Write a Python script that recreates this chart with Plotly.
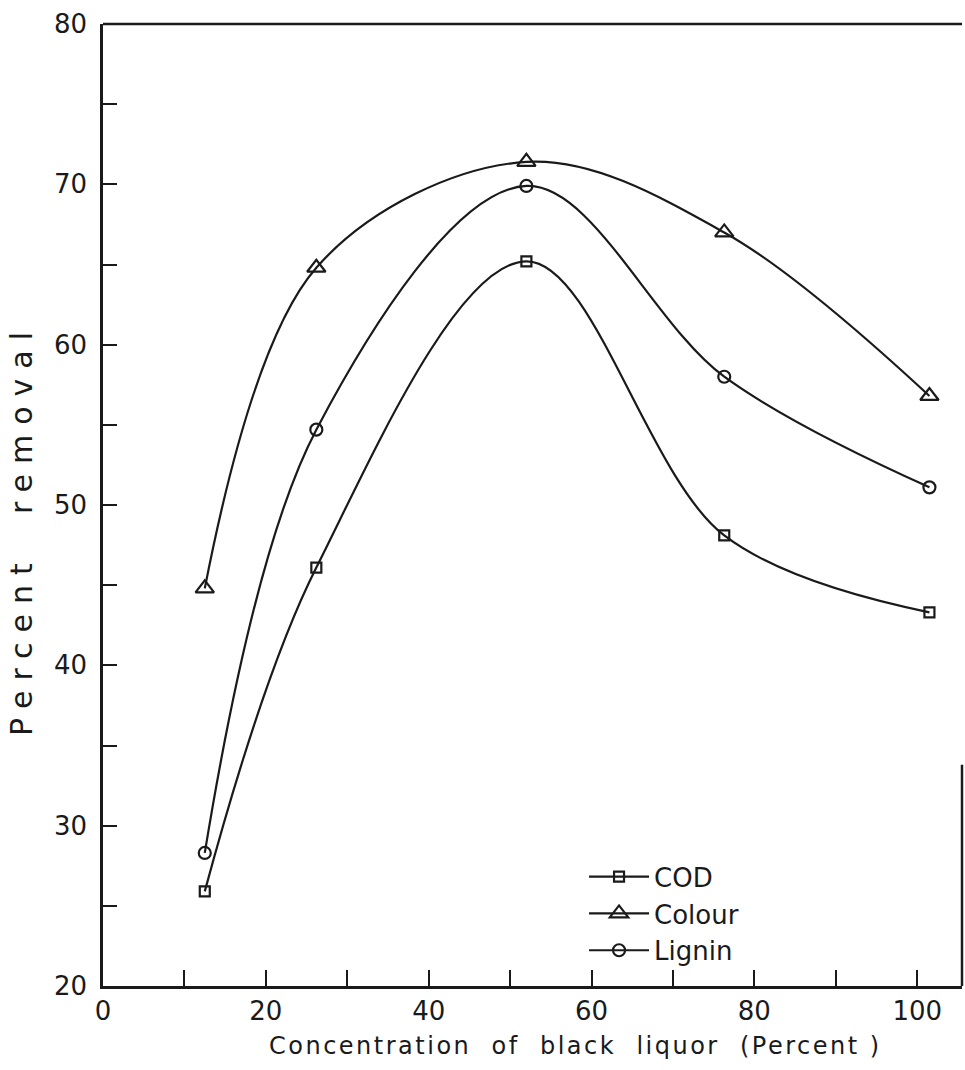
import plotly.graph_objects as go

conc = [12.5, 26.2, 52.0, 76.3, 101.5]
cod = [25.9, 46.1, 65.2, 48.1, 43.3]
colour = [44.8, 64.8, 71.4, 67.0, 56.8]
lignin = [28.3, 54.7, 69.9, 58.0, 51.1]

x_ticks = [0, 10, 20, 30, 40, 50, 60, 70, 80, 90, 100]
x_labels = ["0", "", "20", "", "40", "", "60", "", "80", "", "100"]
y_ticks = [20, 25, 30, 35, 40, 45, 50, 55, 60, 65, 70, 75, 80]
y_labels = ["20", "", "30", "", "40", "", "50", "", "60", "", "70", "", "80"]

FONT = "DejaVu Sans"
INK = "#1a1a1a"

fig = go.Figure()
series = [
    ("COD", cod, "square-open", 10),
    ("Colour", colour, "triangle-up-open", 16),
    ("Lignin", lignin, "circle-open", 12),
]
for name, vals, sym, size in series:
    fig.add_trace(go.Scatter(
        x=conc, y=vals, name=name, mode="lines+markers",
        line=dict(color=INK, width=2.2, shape="spline", smoothing=1.0),
        marker=dict(symbol=sym, size=size, color=INK, line=dict(width=2.2, color=INK)),
    ))

fig.update_layout(
    width=965, height=1070,
    margin=dict(l=103, r=3, t=24, b=84),
    paper_bgcolor="white", plot_bgcolor="white",
    font=dict(family=FONT, color=INK, size=24),
    showlegend=True,
    legend=dict(x=0.56, y=0.138, xanchor="left", yanchor="top",
                bgcolor="rgba(0,0,0,0)", font=dict(size=26, family=FONT),
                tracegroupgap=0, itemwidth=60),
    xaxis=dict(range=[0, 105.5], tickvals=x_ticks, ticktext=x_labels,
               ticks="inside", ticklen=16, tickwidth=2, tickcolor=INK,
               showline=True, linecolor=INK, linewidth=2.5, mirror=False,
               showgrid=False, zeroline=False,
               tickfont=dict(size=26, family=FONT)),
    yaxis=dict(range=[20, 80], tickvals=y_ticks, ticktext=y_labels,
               ticks="inside", ticklen=14, tickwidth=2, tickcolor=INK,
               showline=True, linecolor=INK, linewidth=2.5, mirror=False,
               showgrid=False, zeroline=False, ticklabelstandoff=8,
               tickfont=dict(size=26, family=FONT)),
)

# frame: top border and lower part of right border
fig.add_shape(type="line", xref="paper", yref="paper", x0=0, x1=1, y0=1, y1=1,
              line=dict(color=INK, width=2.5))
fig.add_shape(type="line", xref="paper", yref="paper", x0=1, x1=1, y0=0, y1=0.23,
              line=dict(color=INK, width=2.5))

fig.add_annotation(text='<span style="letter-spacing:2.5px">Concentration  of  black  liquor  (Percent )</span>',
                   xref="paper", yref="paper", x=0.55, y=0, yshift=-60,
                   showarrow=False, xanchor="center", yanchor="middle",
                   font=dict(size=24, family=FONT, color=INK))
fig.add_annotation(text='<span style="letter-spacing:10px">Percent  removal</span>',
                   xref="paper", yref="paper", x=0, y=0.475, xshift=-82,
                   showarrow=False, textangle=-90, xanchor="center", yanchor="middle",
                   font=dict(size=30, family=FONT, color=INK))

fig.write_html("out.html")
